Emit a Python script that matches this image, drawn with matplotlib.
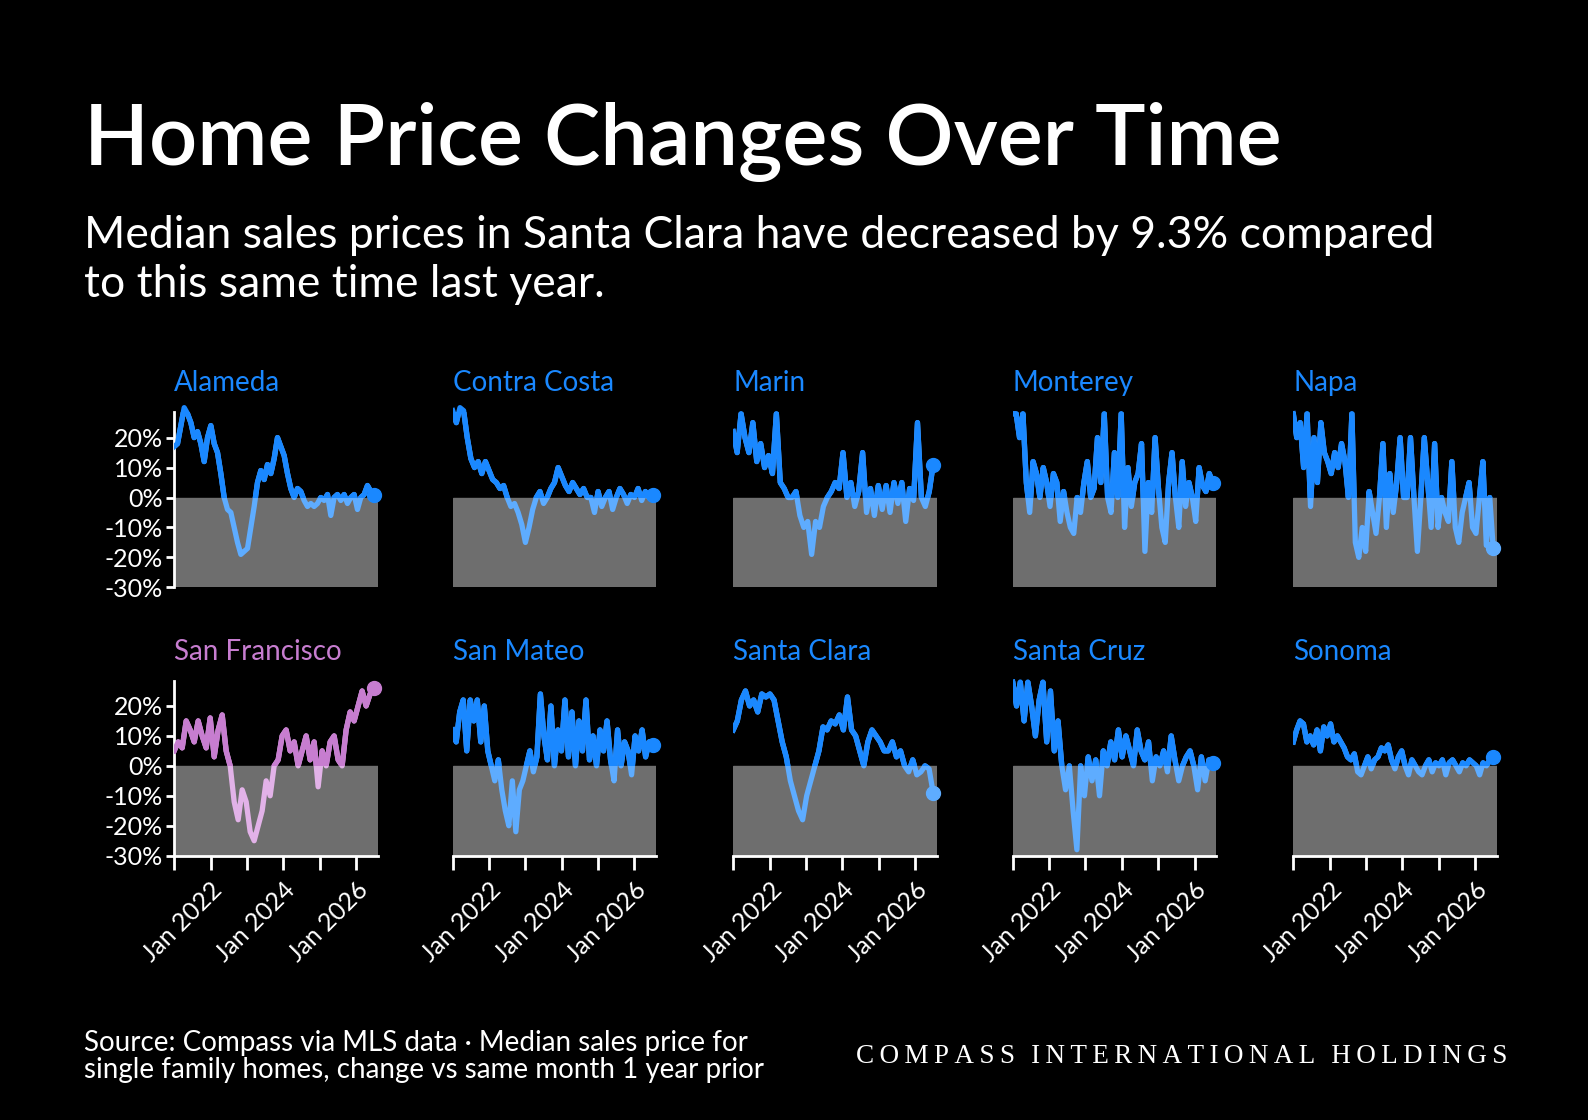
import numpy as np
import matplotlib.pyplot as plt
from matplotlib.patches import Rectangle

W, H = 1568, 1106

counties = ['Alameda', 'Contra Costa', 'Marin', 'Monterey', 'Napa',
            'San Francisco', 'San Mateo', 'Santa Clara', 'Santa Cruz', 'Sonoma']

alameda = [17, 18, 24, 30, 28, 25, 20, 22, 18, 12, 20, 24, 18, 15, 8, 0, -4, -5, -10, -15,
           -19, -18, -17, -10, -3, 5, 9, 6, 11, 8, 13, 20, 17, 14, 8, 3, 0, 3, 2, -1,
           -3, -2, -3, -2, 0, -1, 1, -6, 0, 1, -1, 1, -2, 0, 1, -4, 0, 1, 4, 2, 1]
contra_costa = [29, 25, 30, 29, 20, 13, 10, 12, 8, 12, 9, 6, 5, 3, 4, 0, -3, -2, -5, -9,
                -15, -10, -4, 0, 2, -2, 0, 3, 5, 10, 7, 4, 2, 5, 3, 1, 3, 0, 0, -5,
                2, -3, 0, 2, -4, 0, 3, 1, -2, 1, 0, 3, -1, 2, 0, 1]
marin = [22, 15, 28, 20, 15, 25, 12, 18, 10, 14, 8, 28, 5, 3, 0, 0, 2, -6, -10, -8,
         -19, -8, -10, -3, 0, 2, 5, 3, 15, 0, 5, -3, 2, 15, -5, 3, -6, 4, -4, 4,
         -5, 5, -2, 5, -8, 3, -1, 25, 0, -3, 2, 11]
monterey = [28, 28, 20, 28, 5, -5, 12, 8, 0, 10, 5, -3, 8, 5, -8, 2, -5, -10, -12, 0,
            -5, 5, 12, 0, 3, 20, 5, 28, 0, -5, 15, 0, 28, -10, 10, -3, 5, 8, 18, -18,
            5, -5, 20, 3, -10, -15, 5, 15, 0, -10, 12, -3, 5, 0, -8, 10, 4, 2, 8, 5]
napa = [28, 20, 25, 10, 28, -3, 20, 5, 25, 15, 12, 8, 15, 10, 18, 12, 0, 28, -15, -20,
        -10, -18, 2, -5, -12, 0, 18, -10, 8, -5, 5, 20, 0, 0, 20, 0, -18, 0, 20, 5,
        -10, 18, -10, 0, -5, -8, 12, -10, -15, -5, 0, 5, -10, -12, 0, 12, -16, 0, -17]
san_francisco = [5, 8, 6, 15, 12, 8, 15, 10, 6, 16, 3, 12, 17, 5, 0, -12, -18, -8, -12, -22,
                 -25, -20, -15, -5, -10, 0, 2, 10, 12, 5, 8, 0, 5, 10, 2, 8, -7, 5, 0, 8,
                 10, 2, 0, 12, 18, 15, 20, 25, 20, 24, 26]
san_mateo = [12, 8, 18, 22, 5, 22, 15, 22, 8, 20, 5, 0, -5, 2, -8, -15, -20, -5, -22, -8,
             -5, 0, 5, -2, 3, 24, 10, 2, 20, 0, 12, 5, 22, 3, 18, 0, 15, 5, 22, 2,
             10, 0, 12, 5, 15, 2, -5, 12, 0, 8, 5, -3, 10, 5, 12, 3, 8, 7]
santa_clara = [12, 15, 22, 25, 20, 22, 18, 24, 23, 24, 22, 15, 8, 3, -5, -10, -15, -18, -10, -5,
               0, 5, 13, 12, 15, 14, 17, 12, 23, 12, 10, 5, 0, 8, 12, 10, 8, 5, 5, 8,
               3, 5, 0, -2, 2, -3, -2, 0, -1, -9]
santa_cruz = [28, 20, 28, 15, 28, 20, 10, 22, 28, 8, 25, 5, 15, 0, -8, 0, -15, -28, 0, -10,
              3, -5, 2, -10, 5, 0, 8, 2, 12, 3, 10, 5, 0, 12, 5, 2, 8, -5, 3, 0,
              5, -2, 10, 2, -5, 0, 3, 5, 0, -8, 3, -5, 2, 1]
sonoma = [8, 12, 15, 14, 8, 10, 7, 12, 5, 13, 10, 14, 8, 10, 8, 6, 3, 2, 4, -2,
          -3, 0, 3, -1, 2, 3, 6, 5, 7, 2, -1, 3, 5, 0, -3, 2, 0, -2, -3, 0,
          2, -2, 1, 0, 2, -3, 1, 2, 0, -2, 1, 0, 2, 1, 0, -3, 1, 0, 2, 3]
series = [alameda, contra_costa, marin, monterey, napa,
          san_francisco, san_mateo, santa_clara, santa_cruz, sonoma]

y_ticks = [20, 10, 0, -10, -20, -30]
x_tick_years = [2021, 2022, 2023, 2024, 2025, 2026]
x_labels = {2022: 'Jan 2022', 2024: 'Jan 2024', 2026: 'Jan 2026'}

BLUE, LBLUE = '#1a88ff', '#5eacff'
PINK, LPINK = '#c77dd0', '#e2b2e8'
GREY = '#6e6e6e'
FONT = 'Lato'

fig = plt.figure(figsize=(15.88, 11.2), dpi=100, facecolor='black')

fig.text(83 / W, 1 - 140 / H, 'Home Price Changes Over Time', color='white',
         fontsize=61, fontfamily=FONT, fontweight='semibold', va='center', ha='left')
fig.text(83 / W, 1 - 257 / H,
         'Median sales prices in Santa Clara have decreased by 9.3% compared\nto this same time last year.',
         color='white', fontsize=32, fontfamily=FONT, va='center', ha='left', linespacing=1.25)
fig.text(83 / W, 1 - 1043 / H,
         'Source: Compass via MLS data \u00b7 Median sales price for\nsingle family homes, change vs same month 1 year prior',
         color='white', fontsize=20, fontfamily=FONT, va='center', ha='left', linespacing=1.05)
fig.text(1488 / W, 1 - 1043 / H, 'C O M P A S S   I N T E R N A T I O N A L   H O L D I N G S'.replace(' ', '\u2009'),
         color='white', fontsize=19.5, fontfamily='Liberation Serif', va='center', ha='right')

lefts = [172, 447, 724, 1000, 1277]
tops = [407, 672]
pw, ph = 201, 173
x0, x1 = 2021.0, 2026.6
y0, y1 = -30, 28.5

for i, (name, vals) in enumerate(zip(counties, series)):
    r, c = divmod(i, 5)
    ax = fig.add_axes([lefts[c] / W, 1 - (tops[r] + ph) / H, pw / W, ph / H])
    ax.set_facecolor('black')
    dark, light = (PINK, LPINK) if name == 'San Francisco' else (BLUE, LBLUE)
    v = np.array(vals, dtype=float)
    x = np.linspace(2021.0, 2026.5, len(v))
    ax.add_patch(Rectangle((x0, y0), x1 - x0, -y0, color=GREY, zorder=1))
    ax.plot(x, v, color=light, lw=3.8, zorder=2, solid_joinstyle='round')
    ln, = ax.plot(x, v, color=dark, lw=3.8, zorder=3, solid_joinstyle='round')
    ln.set_clip_path(Rectangle((x0, 0), x1 - x0, 100, transform=ax.transData))
    ax.plot(x[-1], min(v[-1], y1), 'o', ms=10, color=dark if v[-1] >= 0 else light, zorder=4,
            clip_on=False)
    ax.set_xlim(x0, x1)
    ax.set_ylim(y0, y1)
    for s in ax.spines.values():
        s.set_visible(False)
    ax.set_title(name, color=dark, fontsize=20, fontfamily=FONT, loc='left', pad=15)
    if c == 0:
        ax.spines['left'].set_visible(True)
        ax.spines['left'].set_color('white')
        ax.spines['left'].set_linewidth(2)
        ax.set_yticks(y_ticks)
        ax.set_yticklabels([f'{t}%' for t in y_ticks], color='white', fontsize=18, fontfamily=FONT)
        ax.tick_params(axis='y', colors='white', length=6, width=2, pad=2)
    else:
        ax.set_yticks([])
    if r == 1:
        ax.spines['bottom'].set_visible(True)
        ax.spines['bottom'].set_color('white')
        ax.spines['bottom'].set_linewidth(2)
        ax.set_xticks(x_tick_years)
        ax.set_xticklabels([x_labels.get(t, '') for t in x_tick_years], rotation=45,
                           ha='right', rotation_mode='anchor', color='white', fontsize=18,
                           fontfamily=FONT)
        ax.tick_params(axis='x', colors='white', length=10, width=2, pad=6)
    else:
        ax.set_xticks([])

fig.savefig('out.png', dpi=100, facecolor='black')
